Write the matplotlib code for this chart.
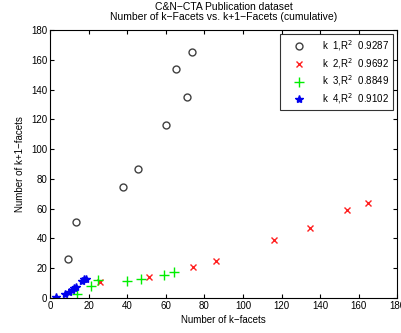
import matplotlib.pyplot as plt
import numpy as np

plt.rcParams['font.family'] = ['Liberation Sans', 'DejaVu Sans']

# data
k1_x = [9.5, 13.4, 37.8, 45.4, 60.2, 65.2, 71.2, 73.5]
k1_y = [26, 51, 74.5, 86.6, 116, 153.8, 134.8, 165]

k2_x = [26, 51.4, 74.1, 86.2, 116, 135, 154, 165]
k2_y = [11, 13.9, 20.8, 24.8, 39, 46.8, 58.9, 64]

k3_x = [14, 21, 25, 39.8, 47, 59.2, 64.3]
k3_y = [2.5, 8, 12, 11.6, 13, 15.4, 17.7]

k4_x = [3, 7.6, 9.8, 11.5, 12.4, 13.3, 16.6, 17.8, 18.6]
k4_y = [0.5, 2.9, 4, 5.2, 6.7, 7.4, 11.2, 12.5, 12.6]

labels = [r'k  1,R$^2$  0.9287', r'k  2,R$^2$  0.9692',
          r'k  3,R$^2$  0.8849', r'k  4,R$^2$  0.9102']

fig = plt.figure(figsize=(4.01, 3.33), dpi=100)
ax = fig.add_axes([0.1247, 0.105, 0.866, 0.805])

ax.plot(k1_x, k1_y, 'o', color='#404040', mfc='none', ms=5, mew=1, label=labels[0])
ax.plot(k2_x, k2_y, 'x', color='#ff2020', ms=4.5, mew=1, label=labels[1])
ax.plot(k3_x, k3_y, '+', color='#00ee00', ms=7, mew=1, label=labels[2])
ax.plot(k4_x, k4_y, '*', color='#0000ee', ms=6, mew=1, label=labels[3])

ax.set_xlim(0, 180)
ax.set_ylim(0, 180)
ax.set_xticks(np.arange(0, 181, 20))
ax.set_yticks(np.arange(0, 181, 20))
ax.tick_params(direction='in', top=True, right=True, labelsize=7, length=3, pad=2)

ax.set_xlabel('Number of k\u2212facets', fontsize=7, labelpad=3)
ax.set_ylabel('Number of k+1\u2212facets', fontsize=7, labelpad=4)
ax.set_title('C&N\u2212CTA Publication dataset\nNumber of k\u2212Facets vs. k+1\u2212Facets (cumulative)',
             fontsize=7.5, pad=7, linespacing=1.05)

leg = ax.legend(loc='upper right', fontsize=7, frameon=True, fancybox=False,
                edgecolor='black', handletextpad=0.9, borderaxespad=0.45,
                labelspacing=0.3, handlelength=3, borderpad=0.4)
leg.get_frame().set_linewidth(0.8)

fig.savefig('out.png', dpi=100)
